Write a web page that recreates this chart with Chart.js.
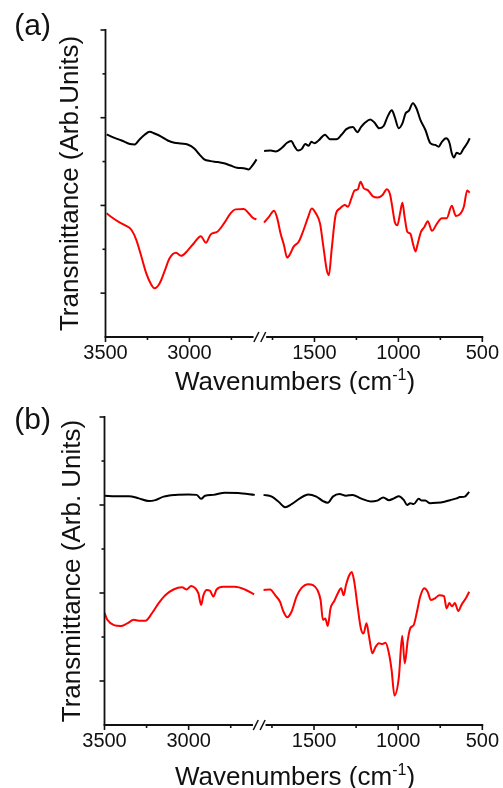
<!DOCTYPE html>
<html>
<head>
<meta charset="utf-8">
<script src="https://cdn.jsdelivr.net/npm/chart.js@4.4.1/dist/chart.umd.min.js"></script>
<style>
  body { margin: 0; background: #fff; }
  canvas { display: block; }
</style>
</head>
<body>
<canvas id="panelA" width="503" height="394"></canvas>
<canvas id="panelB" width="503" height="394"></canvas>
<script>
// x axis is broken between 2600 and 1800 cm-1
const LEFT_END = 2600, RIGHT_START = 1800, GAP = 45;
const xTicks = [3500, 3250, 3000, 2750, 1750, 1500, 1250, 1000, 750, 500];
const xLabels = [3500, 3000, 1500, 1000, 500];
const yTicks = [1, 2, 3, 4, 5, 6, 7];

// (a) black
const aBlackWn = [3493, 3454, 3404, 3355, 3326, 3296, 3267, 3237, 3208, 3168, 3129, 3090, 3050, 3011, 2971, 2942, 2912, 2873, 2834, 2794, 2755, 2716, 2676, 2647, 2623, 2600,
  1800, 1761, 1731, 1692, 1663, 1639, 1618, 1598, 1575, 1555, 1535, 1519, 1500, 1476, 1437, 1408, 1369, 1339, 1310, 1271, 1245, 1222, 1198, 1167, 1143, 1114, 1088, 1065, 1039, 1022,
  998, 976, 957, 937, 914, 892, 869, 839, 810, 781, 760, 741, 716, 696, 682, 669, 653, 633, 614, 590, 575];
const aBlackT = [4.62, 4.55, 4.48, 4.40, 4.39, 4.51, 4.61, 4.68, 4.64, 4.57, 4.48, 4.43, 4.41, 4.39, 4.30, 4.17, 4.05, 4.01, 3.99, 3.96, 3.91, 3.86, 3.85, 3.82, 3.92, 4.05,
  4.24, 4.25, 4.23, 4.32, 4.43, 4.47, 4.34, 4.25, 4.29, 4.40, 4.36, 4.45, 4.42, 4.48, 4.61, 4.51, 4.51, 4.61, 4.74, 4.79, 4.67, 4.79, 4.89, 4.96, 4.89, 4.76, 4.81, 5.02, 5.17, 5.02,
  4.76, 4.87, 5.10, 5.16, 5.33, 5.21, 4.95, 4.72, 4.42, 4.38, 4.34, 4.45, 4.53, 4.43, 4.19, 4.09, 4.20, 4.17, 4.28, 4.42, 4.53];

// (a) red
const aRedWn = [3493, 3463, 3424, 3385, 3345, 3316, 3286, 3257, 3227, 3208, 3178, 3149, 3119, 3080, 3050, 3011, 2971, 2932, 2902, 2873, 2834, 2794, 2755, 2725, 2676, 2647, 2623, 2601,
  1800, 1771, 1741, 1722, 1702, 1682, 1663, 1643, 1624, 1594, 1565, 1539, 1516, 1492, 1467, 1447, 1427, 1414, 1398, 1374, 1349, 1319, 1300, 1280, 1261, 1241, 1226, 1206, 1182, 1153,
  1124, 1094, 1069, 1049, 1035, 1022, 1006, 990, 976, 963, 947, 928, 914, 898, 884, 865, 845, 825, 800, 771, 741, 712, 682, 657, 629, 610, 590, 575];
const aRedT = [2.82, 2.73, 2.63, 2.55, 2.44, 2.21, 1.83, 1.45, 1.19, 1.11, 1.22, 1.49, 1.79, 1.92, 1.85, 1.97, 2.15, 2.30, 2.15, 2.34, 2.40, 2.59, 2.82, 2.91, 2.92, 2.82, 2.72, 2.68,
  2.61, 2.74, 2.88, 2.71, 2.36, 2.10, 1.81, 1.91, 2.06, 2.17, 2.44, 2.72, 2.93, 2.82, 2.59, 2.06, 1.53, 1.41, 1.98, 2.78, 2.93, 3.01, 2.97, 3.16, 3.34, 3.37, 3.54, 3.39, 3.35, 3.21,
  3.18, 3.24, 3.37, 3.24, 2.93, 2.63, 2.55, 2.82, 3.06, 2.74, 2.40, 2.35, 2.14, 1.95, 2.14, 2.40, 2.51, 2.64, 2.42, 2.58, 2.71, 2.71, 2.99, 2.76, 2.82, 2.97, 3.34, 3.29];

// (b) black
const bBlackWn = [3500, 3434, 3355, 3296, 3237, 3198, 3149, 3080, 3001, 2952, 2926, 2902, 2853, 2784, 2706, 2607,
  1800, 1751, 1712, 1672, 1633, 1584, 1535, 1486, 1447, 1418, 1388, 1349, 1310, 1271, 1222, 1163, 1124, 1088, 1055, 1025,
  996, 966, 947, 928, 908, 878, 859, 839, 810, 771, 731, 692, 653, 633, 604, 578];
const bBlackT = [5.21, 5.20, 5.20, 5.15, 5.09, 5.11, 5.19, 5.23, 5.24, 5.23, 5.14, 5.21, 5.23, 5.28, 5.27, 5.23,
  5.23, 5.19, 5.08, 4.95, 5.02, 5.15, 5.24, 5.19, 5.09, 5.05, 5.19, 5.25, 5.21, 5.23, 5.15, 5.08, 5.10, 5.17, 5.11, 5.15,
  5.20, 5.11, 5.00, 5.04, 5.02, 5.14, 5.10, 5.10, 5.04, 5.05, 5.07, 5.11, 5.15, 5.18, 5.19, 5.30];

// (b) red
const bRedWn = [3500, 3483, 3444, 3404, 3365, 3326, 3296, 3257, 3218, 3178, 3139, 3090, 3040, 3011, 2985, 2961, 2942, 2926, 2912, 2893, 2873, 2853, 2834, 2794, 2725, 2666, 2611,
  1800, 1761, 1731, 1702, 1682, 1659, 1633, 1604, 1575, 1535, 1506, 1480, 1461, 1447, 1433, 1418, 1402, 1378, 1359, 1339, 1324, 1310, 1290, 1276, 1261, 1241, 1222, 1206, 1188, 1173,
  1153, 1134, 1114, 1094, 1075, 1055, 1039, 1022, 996, 976, 961, 943, 928, 908, 888, 869, 845, 825, 806, 781, 755, 728, 712, 696, 680, 663, 643, 624, 598, 578];
const bRedT = [2.55, 2.39, 2.27, 2.25, 2.31, 2.39, 2.37, 2.37, 2.54, 2.77, 2.95, 3.08, 3.13, 3.08, 3.16, 3.11, 2.99, 2.73, 2.95, 3.07, 3.05, 2.92, 3.08, 3.14, 3.14, 3.08, 2.97,
  3.07, 3.08, 2.95, 2.80, 2.58, 2.45, 2.58, 2.92, 3.11, 3.20, 3.18, 3.07, 2.84, 2.39, 2.42, 2.25, 2.65, 2.83, 2.99, 3.11, 2.95, 3.18, 3.41, 3.48, 3.26, 2.69, 2.20, 2.08, 2.31, 2.01,
  1.63, 1.78, 1.86, 1.84, 1.87, 1.63, 1.25, 0.67, 1.08, 2.03, 1.40, 1.93, 2.20, 2.27, 2.58, 2.92, 3.11, 3.03, 2.84, 2.88, 2.95, 2.93, 2.65, 2.77, 2.70, 2.77, 2.59, 2.73, 2.88, 3.03];

const FONT = '"Liberation Sans", Arial, sans-serif';
const INK = '#111111';

// wavenumber -> position on the broken axis, and back
function pos(w) {
  return w > 2200 ? 3500 - w : (3500 - LEFT_END) + GAP + (RIGHT_START - w);
}
function wn(p) {
  return p <= 3500 - LEFT_END + GAP / 2 ? 3500 - p : RIGHT_START - (p - (3500 - LEFT_END) - GAP);
}

function series(wns, vals) {
  const pts = [];
  wns.forEach((w, i) => {
    if (i > 0 && wns[i - 1] > 2200 && w < 2200) pts.push({ x: 3500 - LEFT_END + GAP / 2, y: null });
    pts.push({ x: pos(w), y: vals[i] });
  });
  return pts;
}

const frame = {
  id: 'frame',
  afterDraw(chart, args, o) {
    const { ctx, chartArea: a, scales: { x, y } } = chart;
    ctx.save();
    ctx.strokeStyle = INK;
    ctx.lineWidth = 1.8;
    // y axis
    ctx.beginPath();
    ctx.moveTo(a.left, a.top - 0.9);
    ctx.lineTo(a.left, a.bottom);
    ctx.stroke();
    // x axis with break
    const xl = x.getPixelForValue(pos(LEFT_END)) - 3;
    const xr = x.getPixelForValue(pos(RIGHT_START)) + 2;
    ctx.beginPath();
    ctx.moveTo(a.left - 0.9, a.bottom);
    ctx.lineTo(xl, a.bottom);
    ctx.moveTo(xr, a.bottom);
    ctx.lineTo(a.right + 0.9, a.bottom);
    ctx.stroke();
    ctx.lineWidth = 1.5;
    [xl + 2.8, xr - 2.9].forEach(c => {
      ctx.beginPath();
      ctx.moveTo(c - 2.5, a.bottom + 5);
      ctx.lineTo(c + 2.5, a.bottom - 5);
      ctx.stroke();
    });
    ctx.lineWidth = 1.6;
    // ticks
    xTicks.forEach(w => {
      const px = x.getPixelForValue(pos(w));
      const len = xLabels.includes(w) ? 5 : 3;
      ctx.beginPath();
      ctx.moveTo(px, a.bottom);
      ctx.lineTo(px, a.bottom + len);
      ctx.stroke();
    });
    yTicks.forEach(v => {
      const py = y.getPixelForValue(v);
      const len = v % 2 ? 5 : 3;
      ctx.beginPath();
      ctx.moveTo(a.left - len, py);
      ctx.lineTo(a.left, py);
      ctx.stroke();
    });
    // x title with superscript
    ctx.fillStyle = INK;
    ctx.textBaseline = 'alphabetic';
    ctx.textAlign = 'left';
    const main = 'Wavenumbers (cm', sup = '-1', end = ')';
    ctx.font = '26px ' + FONT;
    const w1 = ctx.measureText(main).width, w3 = ctx.measureText(end).width;
    ctx.font = '16px ' + FONT;
    const w2 = ctx.measureText(sup).width;
    let sx = o.titleX - (w1 + w2 + w3) / 2;
    const base = o.titleY + 9;
    ctx.font = '26px ' + FONT;
    ctx.fillText(main, sx, base);
    ctx.font = '16px ' + FONT;
    ctx.fillText(sup, sx + w1, base - 10);
    ctx.font = '26px ' + FONT;
    ctx.fillText(end, sx + w1 + w2, base);
    // panel letter
    ctx.font = '30px ' + FONT;
    ctx.textAlign = 'center';
    ctx.textBaseline = 'middle';
    ctx.fillText(o.letter, 32.7, o.letterY);
    ctx.restore();
  }
};

function makePanel(id, p) {
  new Chart(document.getElementById(id), {
    type: 'line',
    data: {
      datasets: [
        { data: series(p.blackWn, p.blackT), borderColor: '#000000' },
        { data: series(p.redWn, p.redT), borderColor: '#ff0000' }
      ]
    },
    options: {
      responsive: false,
      animation: false,
      devicePixelRatio: 1,
      layout: { padding: { left: 0, right: 17, top: p.top, bottom: 0 } },
      elements: {
        point: { radius: 0 },
        line: { borderWidth: 2, cubicInterpolationMode: 'monotone', fill: false }
      },
      spanGaps: false,
      plugins: {
        legend: { display: false },
        tooltip: { enabled: false },
        frame: { letter: p.letter, letterY: p.letterY, titleX: 295, titleY: p.titleY }
      },
      scales: {
        x: {
          type: 'linear',
          min: 0,
          max: pos(500),
          grid: { display: false, drawTicks: false },
          border: { display: false },
          afterBuildTicks: s => { s.ticks = xTicks.map(w => ({ value: pos(w) })); },
          afterFit: s => { s.height = 394 - p.bottom; },
          ticks: {
            autoSkip: false,
            maxRotation: 0,
            padding: 4,
            color: INK,
            font: { family: FONT, size: 20 },
            callback: v => {
              const w = Math.round(wn(v));
              return xLabels.includes(w) ? String(w) : '';
            }
          }
        },
        y: {
          min: 0,
          max: 7,
          grid: { display: false, drawTicks: false },
          border: { display: false },
          ticks: { display: false },
          afterBuildTicks: s => { s.ticks = yTicks.map(v => ({ value: v })); },
          afterFit: s => { s.width = p.left; },
          title: {
            display: true,
            text: p.yTitle,
            color: INK,
            font: { family: FONT, size: 26 },
            padding: { top: p.yTitleX - 15.6, bottom: 0 }
          }
        }
      }
    },
    plugins: [frame]
  });
}

makePanel('panelA', {
  blackWn: aBlackWn, blackT: aBlackT, redWn: aRedWn, redT: aRedT,
  top: 30, bottom: 337, left: 105.5, letter: '(a)', letterY: 27, titleY: 381,
  yTitle: 'Transmittance (Arb.Units)', yTitleX: 70.5
});
makePanel('panelB', {
  blackWn: bBlackWn, blackT: bBlackT, redWn: bRedWn, redT: bRedT,
  top: 23, bottom: 331, left: 104.5, letter: '(b)', letterY: 26.5, titleY: 382,
  yTitle: 'Transmittance (Arb. Units)', yTitleX: 72.5
});
</script>
</body>
</html>
